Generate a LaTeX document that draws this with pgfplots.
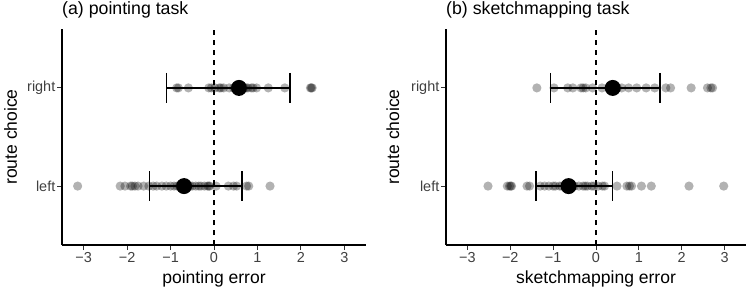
\documentclass[border=0pt]{standalone}
\usepackage{fontspec}
\setmainfont{Liberation Sans}
\usepackage{pgfplots}
\pgfplotsset{compat=1.18}
\begin{document}
\begin{tikzpicture}[x=1bp,y=1bp]
\useasboundingbox (0,0) rectangle (751,291);
\pgfplotsset{
  every axis title shift=0pt,
  myax/.style={
    scale only axis, height=216bp,
    xmin=-3.5, xmax=3.5, ymin=0.4, ymax=2.6,
    axis x line*=bottom, axis y line*=left,
    axis line style={line width=1.5bp, black, -},
    xtick={-3,-2,-1,0,1,2,3}, xticklabels={−3,−2,−1,0,1,2,3},
    ytick={1,2}, yticklabels={left,right},
    tick align=outside, major tick length=5bp,
    tick style={line width=1bp, black!80},
    tick label style={font=\fontsize{14.5}{14.5}\selectfont, text=black!75},
    yticklabel style={inner sep=1.5bp},
    xticklabel style={inner sep=2bp},
    label style={font=\fontsize{17.6}{18}\selectfont},
    xlabel style={at={(axis description cs:0.5,0)}, anchor=base, yshift=-38bp},
    ylabel style={at={([xshift=-45bp]axis description cs:0,0.5)}, anchor=base},
    title style={font=\fontsize{17.8}{18}\selectfont, at={([yshift=14.5bp]axis description cs:0,1)}, anchor=base west, inner sep=0pt},
    clip=false,
  },
  pts/.style={only marks, mark=*, mark size=4.6bp, mark options={draw opacity=0, line width=0pt, fill=black, fill opacity=0.3}},
  ebar/.style={black, line width=1.5bp, mark=|, mark size=15bp, mark options={line width=1.5bp}},
  mean/.style={only marks, mark=*, mark size=8bp, mark options={draw opacity=0, fill=black}},
  zline/.style={black, line width=1.1bp, dash pattern=on 5bp off 5bp},
}
% ---------------- (a) pointing task ----------------
\begin{axis}[myax, at={(62bp,46bp)}, anchor=south west, width=304bp,
  title={(a) pointing task}, xlabel={pointing error}, ylabel={route choice}]
\addplot[zline] coordinates {(0,0.4) (0,2.6)};
\addplot[pts] coordinates {
 (-0.86,2) (-0.82,2) (-0.59,2) (-0.12,2) (-0.06,2) (0.02,2) (0.12,2) (0.16,2) (0.22,2)
 (0.35,2) (0.45,2) (0.6,2) (0.7,2) (0.74,2) (0.78,2) (0.86,2) (0.9,2) (0.98,2) (1.25,2)
 (1.63,2) (2.22,2) (2.24,2) (2.26,2)
};
\addplot[pts] coordinates {
 (-3.14,1) (-2.16,1) (-2.05,1) (-1.92,1) (-1.88,1) (-1.82,1) (-1.75,1) (-1.62,1) (-1.5,1)
 (-1.4,1) (-1.32,1) (-1.2,1) (-1.1,1) (-1.0,1) (-0.92,1) (-0.85,1) (-0.8,1) (-0.7,1)
 (-0.6,1) (-0.55,1) (-0.5,1) (-0.42,1) (-0.35,1) (-0.3,1) (-0.22,1) (-0.15,1) (-0.12,1)
 (-0.1,1) (0.05,1) (0.33,1) (0.45,1) (0.52,1) (0.75,1) (0.8,1) (1.29,1)
};
\addplot[ebar] coordinates {(-1.09,2) (1.75,2)};
\addplot[ebar] coordinates {(-1.49,1) (0.64,1)};
\addplot[mean] coordinates {(0.575,2) (-0.69,1)};
\end{axis}
% ---------------- (b) sketchmapping task ----------------
\begin{axis}[myax, at={(446bp,46bp)}, anchor=south west, width=300bp,
  title={(b) sketchmapping task}, xlabel={sketchmapping error}, ylabel={route choice},
  ylabel style={at={([xshift=-47bp]axis description cs:0,0.5)}}]
\addplot[zline] coordinates {(0,0.4) (0,2.6)};
\addplot[pts] coordinates {
 (-1.38,2) (-0.98,2) (-0.66,2) (-0.54,2) (-0.35,2) (-0.3,2) (-0.24,2) (-0.08,2) (0.14,2)
 (0.3,2) (0.5,2) (0.6,2) (0.76,2) (0.95,2) (1.17,2) (1.37,2) (1.63,2) (1.74,2)
 (2.22,2) (2.6,2) (2.68,2) (2.72,2)
};
\addplot[pts] coordinates {
 (-2.52,1) (-2.07,1) (-2.02,1) (-1.99,1) (-1.97,1) (-1.61,1) (-1.55,1) (-1.3,1) (-1.2,1)
 (-1.1,1) (-1.0,1) (-0.95,1) (-0.85,1) (-0.8,1) (-0.7,1) (-0.6,1) (-0.5,1) (-0.4,1)
 (-0.3,1) (-0.25,1) (-0.2,1) (-0.1,1) (-0.05,1) (0.05,1) (0.15,1) (0.2,1) (0.49,1)
 (0.72,1) (0.78,1) (0.83,1) (1.06,1) (1.29,1) (2.17,1) (2.98,1)
};
\addplot[ebar] coordinates {(-1.06,2) (1.49,2)};
\addplot[ebar] coordinates {(-1.40,1) (0.39,1)};
\addplot[mean] coordinates {(0.39,2) (-0.64,1)};
\end{axis}
\end{tikzpicture}
\end{document}
